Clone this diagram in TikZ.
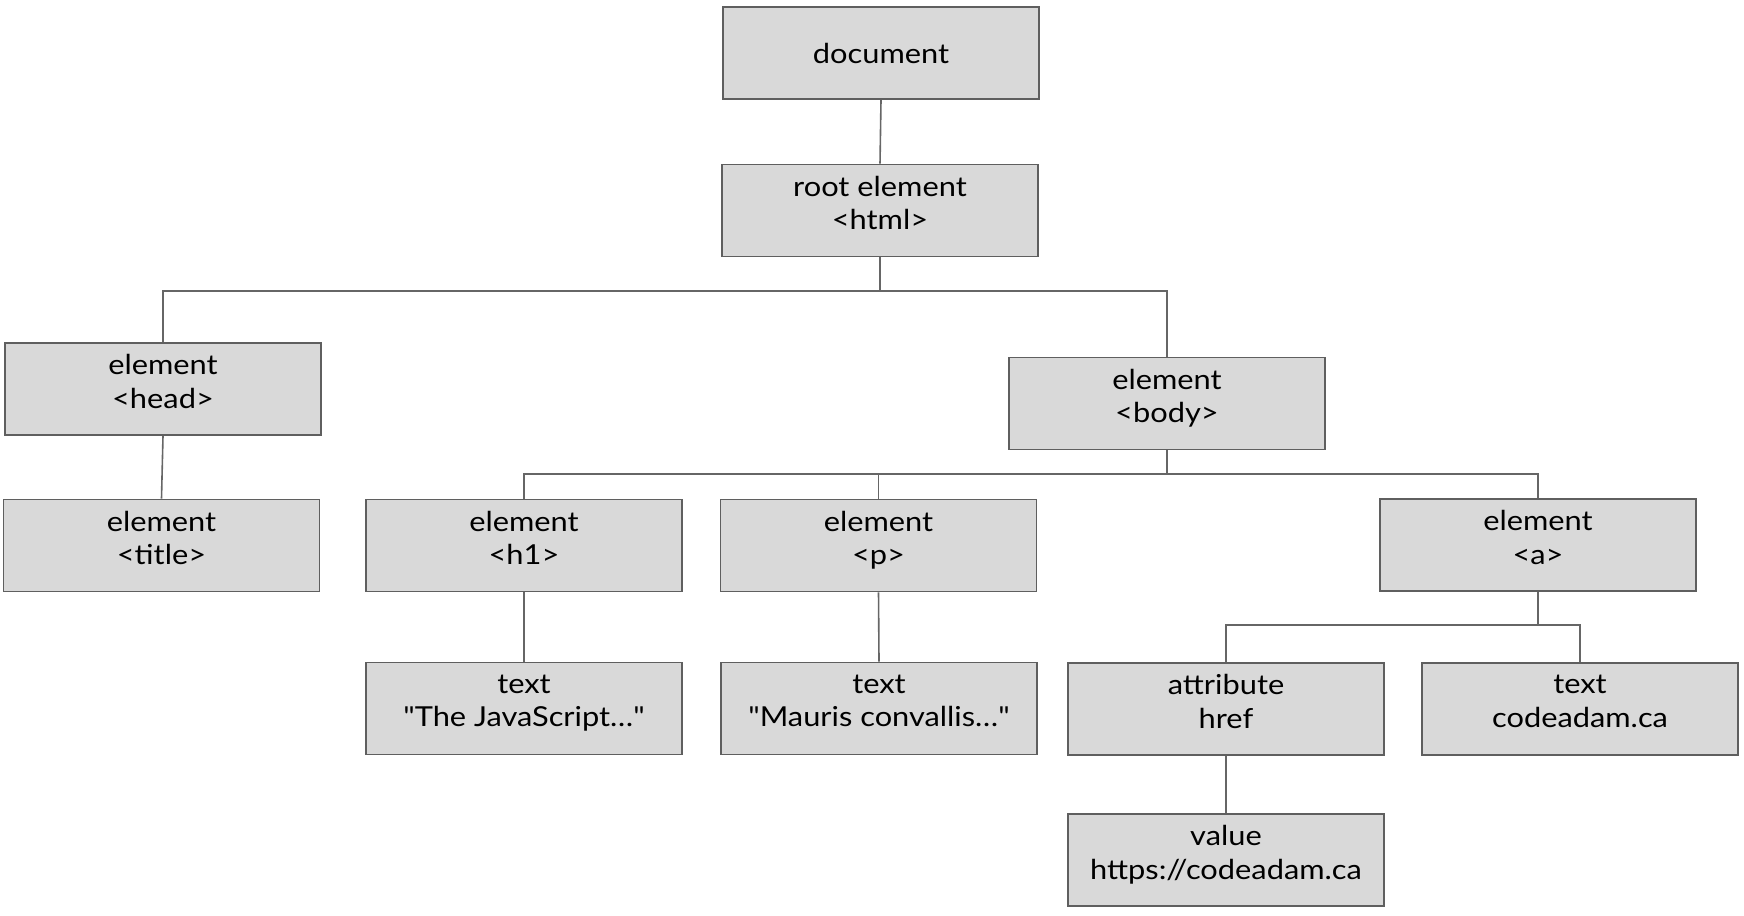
\documentclass[tikz,border=0pt]{standalone}
\usepackage{fontspec}
\setmainfont{Lato}[Ligatures=TeXOff,FakeStretch=1.12]
\definecolor{boxfill}{HTML}{D9D9D9}
\definecolor{boxline}{HTML}{5F5F5F}
\definecolor{wire}{HTML}{666666}
\begin{document}
\begin{tikzpicture}[x=1pt,y=-1pt,
  box/.style={draw=boxline,fill=boxfill,line width=1.6pt,minimum width=316pt,minimum height=92pt,
    align=center,inner sep=0pt,font=\fontsize{27.5}{33.4}\selectfont},
  two/.style={box,
    execute at begin node={\rule{0pt}{22pt}},
    execute at end node={\rule[-15.6pt]{0pt}{0pt}}},
  wire/.style={draw=wire,line width=1.6pt}]
\useasboundingbox (0,0) rectangle (1744,915);
\node[box] (doc) at (881,53) {document};
\node[two] (root) at (880,210.5) {root element\\<html>};
\node[two] (head) at (163,389) {element\\<head>};
\node[two] (title) at (161.5,545.5) {element\\<title>};
\node[two] (body) at (1167,403.5) {element\\<body>};
\node[two] (h1) at (524,545.5) {element\\<h1>};
\node[two] (p) at (878.5,545.5) {element\\<p>};
\node[two] (a) at (1538,545) {element\\<a>};
\node[two] (t1) at (524,708.5) {text\\"The JavaScript…"};
\node[two] (t2) at (879,708.5) {text\\"Mauris convallis…"};
\node[two] (attr) at (1226,709) {attribute\\href};
\node[two] (t3) at (1580,709) {text\\codeadam.ca};
\node[two] (val) at (1226,860) {value\\https://codeadam.ca};
\coordinate (busA) at (0,291);
\coordinate (busB) at (0,474);
\coordinate (busC) at (0,625);
\draw[wire] (doc.south) -- (root.north);
\draw[wire] (root.south) -- (root.south |- busA);
\draw[wire] (head.north) |- (root.south |- busA) -| (body.north);
\draw[wire] (head.south) -- (title.north);
\draw[wire] (body.south) -- (body.south |- busB);
\draw[wire] (h1.north) |- (body.south |- busB) -| (a.north);
\draw[wire] (p.north) -- (p.north |- busB);
\draw[wire] (h1.south) -- (t1.north);
\draw[wire] (p.south) -- (t2.north);
\draw[wire] (a.south) -- (a.south |- busC);
\draw[wire] (attr.north) |- (a.south |- busC) -| (t3.north);
\draw[wire] (attr.south) -- (val.north);
\end{tikzpicture}
\end{document}
